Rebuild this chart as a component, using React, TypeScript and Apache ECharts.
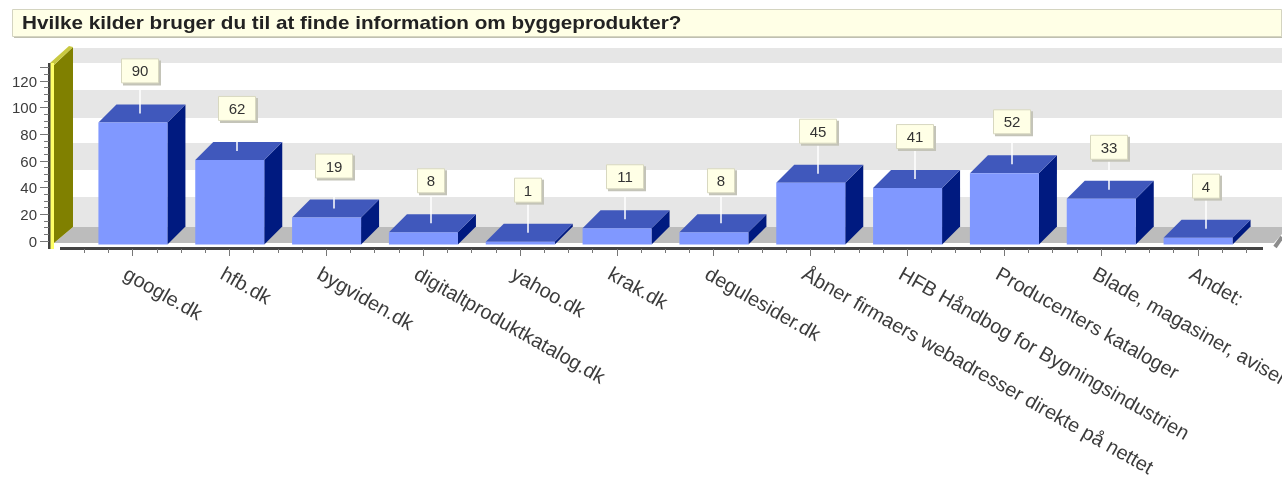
import React, { useEffect, useRef } from "react";
import * as echarts from "echarts";

const titleText = "Hvilke kilder bruger du til at finde information om byggeprodukter?";
const categories = [
  "google.dk", "hfb.dk", "bygviden.dk", "digitaltproduktkatalog.dk", "yahoo.dk", "krak.dk",
  "degulesider.dk", "Åbner firmaers webadresser direkte på nettet",
  "HFB Håndbog for Bygningsindustrien", "Producenters kataloger",
  "Blade, magasiner, aviser", "Andet:",
];
const values = [90, 62, 19, 8, 1, 11, 8, 45, 41, 52, 33, 4];
const FONT = "'Liberation Sans', Arial, sans-serif";

function renderBar(params: any, api: any) {
  const i = api.value(0);
  const v = api.value(1);
  const [cx, yTop] = api.coord([i, v]);
  const [, yBase0] = api.coord([i, 0]);
  const yBase = yBase0 + 1.5;
  const left = cx - 34;
  const right = cx + 35;
  const d = 18;
  const midX = Math.round(cx + 8);
  const midY = yTop - d / 2;
  const label = String(v);
  const boxW = label.length > 1 ? 38 : 28;
  const boxH = 25;
  const boxBottom = midY - 30;
  return {
    type: "group",
    children: [
      { type: "polygon", shape: { points: [[right, yBase], [right + d, yBase - d], [right + d, yTop - d], [right, yTop]] }, style: { fill: "#001a80" } },
      { type: "polygon", shape: { points: [[left, yTop], [left + d, yTop - d], [right + d, yTop - d], [right, yTop]] }, style: { fill: "#4058bc" } },
      { type: "rect", shape: { x: left, y: yTop, width: right - left, height: yBase - yTop }, style: { fill: "#8098ff" } },
      { type: "line", shape: { x1: midX, y1: boxBottom, x2: midX, y2: midY }, style: { stroke: "#ffffff", lineWidth: 1.5 } },
      { type: "rect", shape: { x: midX - boxW / 2 + 2, y: boxBottom - boxH + 2, width: boxW, height: boxH }, style: { fill: "#c4c4b8" } },
      { type: "rect", shape: { x: midX - boxW / 2 + 0.5, y: boxBottom - boxH + 0.5, width: boxW - 1, height: boxH - 1 }, style: { fill: "#ffffe6", stroke: "#d8d8c0", lineWidth: 1 } },
      { type: "text", x: midX, y: boxBottom - boxH / 2, style: { text: label, fill: "#333333", font: `15px ${FONT}`, align: "center", verticalAlign: "middle" } },
    ],
  };
}

function renderTicks(params: any, api: any) {
  const i = api.value(0);
  const [cx] = api.coord([i, 0]);
  const band = api.size([1, 0])[0];
  const step = band / 4;
  const children: any[] = [];
  for (let k = -2; k < 2; k++) {
    const x = Math.round(cx + k * step) + 0.5;
    children.push({ type: "line", shape: { x1: x, y1: 249, x2: x, y2: k === 0 ? 256 : 253 }, style: { stroke: "#777777", lineWidth: 1 } });
  }
  if (i === values.length - 1) {
    const x = Math.round(cx + 2 * step) + 0.5;
    children.push({ type: "line", shape: { x1: x, y1: 249, x2: x, y2: 253 }, style: { stroke: "#777777", lineWidth: 1 } });
  }
  return { type: "group", children };
}

const bands = [[48, 63], [90, 118], [143, 170], [197, 227]];

export default function App() {
  const ref = useRef<HTMLDivElement>(null);
  useEffect(() => {
    const chart = echarts.init(ref.current!, null, { renderer: "svg" });
    chart.setOption({
      animation: false,
      backgroundColor: "#ffffff",
      grid: [
        { left: 84, width: 1162, top: 62.1, height: 180.9, outerBoundsMode: "none" },
        { left: 49, width: 1000, top: 67.67, height: 173.33, outerBoundsMode: "none" },
        { left: 77, width: 1163, top: 200, height: 48, outerBoundsMode: "none" },
      ],
      xAxis: [
        { type: "category", gridIndex: 0, data: categories, show: false },
        { type: "category", gridIndex: 1, data: categories, show: false },
        {
          type: "category", gridIndex: 2, data: categories,
          axisLine: { show: false }, axisTick: { show: false },
          axisLabel: { interval: 0, rotate: -29.5, margin: 24, hideOverlap: false, color: "#3c3c3c", fontFamily: FONT, fontSize: 20 },
        },
      ],
      yAxis: [
        { type: "value", gridIndex: 0, min: 0, max: 135, show: false },
        {
          type: "value", gridIndex: 1, min: 0, max: 130, interval: 20,
          axisLine: { show: false },
          axisTick: { show: true, length: 9, lineStyle: { color: "#777777" } },
          minorTick: { show: true, splitNumber: 4, length: 5, lineStyle: { color: "#777777" } },
          splitLine: { show: false },
          axisLabel: { margin: 12, color: "#3c3c3c", fontFamily: FONT, fontSize: 15 },
        },
        { type: "value", gridIndex: 2, show: false },
      ],
      graphic: [
        ...bands.map(([a, b]) => ({ type: "rect", z: -10, shape: { x: 73, y: a, width: 1209, height: b - a }, style: { fill: "#e6e6e6" } })),
        { type: "polygon", z: -9, shape: { points: [[54, 243], [73, 227], [1282, 227], [1282, 234], [1274, 243]] }, style: { fill: "#bcbcbc" } },
        { type: "polyline", z: -8, shape: { points: [[1275, 247], [1282, 237]] }, style: { stroke: "#8c8c8c", lineWidth: 4 } },
        { type: "polygon", z: -8, shape: { points: [[54, 65], [73, 47], [73, 227], [54, 243]] }, style: { fill: "#808000" } },
        { type: "polygon", z: -8, shape: { points: [[50, 63], [69, 46], [73, 47], [54, 65]] }, style: { fill: "#c8c840" } },
        { type: "rect", z: -8, shape: { x: 50, y: 63, width: 4, height: 186 }, style: { fill: "#ffff66" } },
        { type: "rect", z: -7, shape: { x: 48, y: 63, width: 2.5, height: 186 }, style: { fill: "#444444" } },
        { type: "rect", z: -7, shape: { x: 60, y: 247, width: 1203, height: 3 }, style: { fill: "#444444" } },
        { type: "rect", z: -6, shape: { x: 14, y: 11, width: 1268, height: 27 }, style: { fill: "#c0c0b0" } },
        { type: "rect", z: -5, shape: { x: 12.5, y: 9.5, width: 1269, height: 27 }, style: { fill: "#ffffe6", stroke: "#d4d4c0", lineWidth: 1 } },
        { type: "text", z: 5, x: 22, y: 23, scaleX: 1.15, style: { text: titleText, fill: "#222222", font: `bold 18px ${FONT}`, verticalAlign: "middle" } },
      ],
      series: [
        { type: "custom", xAxisIndex: 0, yAxisIndex: 0, data: values.map((v, i) => [i, v]), renderItem: renderTicks, encode: { x: 0, y: 1 }, silent: true, z: 1 },
        { type: "custom", xAxisIndex: 0, yAxisIndex: 0, data: values.map((v, i) => [i, v]), renderItem: renderBar, encode: { x: 0, y: 1 }, silent: true, z: 2, clip: false },
      ],
    });
    return () => chart.dispose();
  }, []);
  return <div ref={ref} style={{ position: "absolute", left: 0, top: 0, width: 1282, height: 479, filter: "blur(0.4px)" }} />;
}
